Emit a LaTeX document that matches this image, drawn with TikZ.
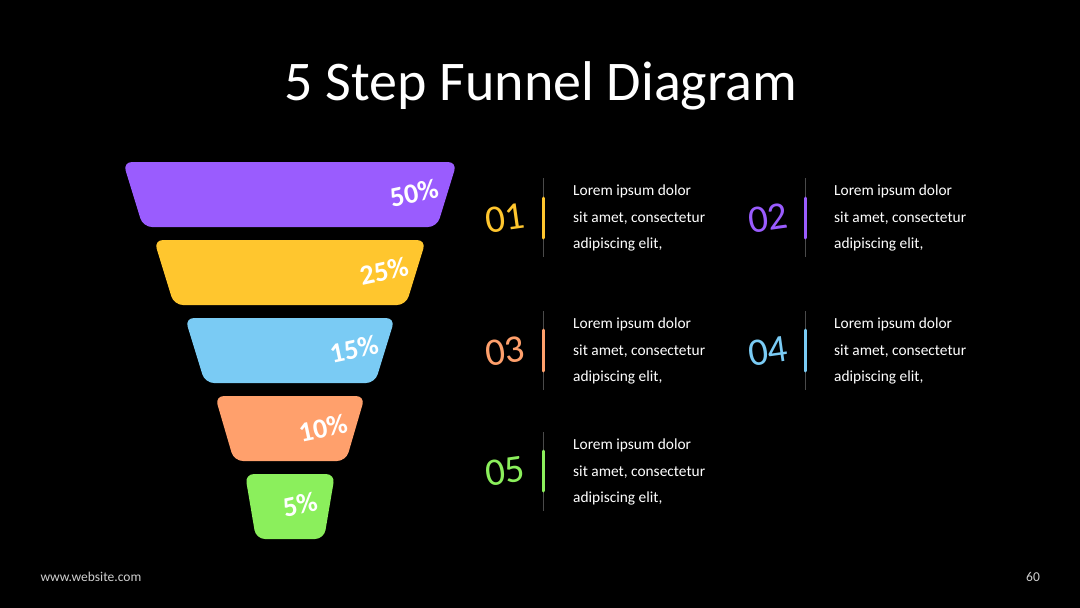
\documentclass[tikz,border=0pt]{standalone}
\usepackage{fontspec}
\setmainfont{Carlito}
\usetikzlibrary{positioning}
\definecolor{funpurple}{HTML}{9A5CFE}
\definecolor{funyellow}{HTML}{FFC62E}
\definecolor{funblue}{HTML}{7ACBF4}
\definecolor{funorange}{HTML}{FFA06C}
\definecolor{fungreen}{HTML}{8BEF5C}
\definecolor{rulegray}{HTML}{4A4A4A}
\definecolor{footgray}{HTML}{D0D0D0}
\tikzset{
  layer/.style={fill=#1, rounded corners=9pt},
  pct/.style={font=\fontsize{28}{28}\selectfont\bfseries, text=white, rotate=12},
  num/.style={font=\fontsize{39}{39}\selectfont, text=#1, rotate=8},
  body/.style={font=\fontsize{15.4}{26.5}\selectfont, text=white, align=left,
               anchor=north west, inner sep=0pt},
  rule/.style={draw=rulegray, line width=0.8pt},
  bar/.style={draw=#1, line width=3pt, line cap=round},
  foot/.style={font=\fontsize{13.5}{14}\selectfont, text=footgray},
}

\begin{document}
\begin{tikzpicture}[x=1pt, y=-1pt]
  \fill[black] (0,0) rectangle (1080,608);
  \useasboundingbox (0,0) rectangle (1080,608);
  \node[font=\fontsize{56}{56}\selectfont, text=white] (title) at (541,86) {5 Step Funnel Diagram};

  % funnel
  \fill[layer=funpurple] (123,162) -- (457,162) -- (437,227) -- (143,227) -- cycle;
  \fill[layer=funyellow] (154,240) -- (426,240) -- (406,305) -- (174,305) -- cycle;
  \fill[layer=funblue]   (185,318) -- (395,318) -- (375,383) -- (205,383) -- cycle;
  \fill[layer=funorange] (215,396) -- (365,396) -- (346,461) -- (234,461) -- cycle;
  \fill[layer=fungreen]  (245,474) -- (335,474) -- (324,539) -- (256,539) -- cycle;
  \node[pct] (p1) at (414,193) {50\%};
  \node[pct] (p2) at (384,271) {25\%};
  \node[pct] (p3) at (354,349) {15\%};
  \node[pct] (p4) at (323,428) {10\%};
  \node[pct] (p5) at (300,505) {5\%};

  % steps
  \draw[rule] (543,178) -- (543,257);
  \draw[bar=funyellow] (543,198) -- (543,238);
  \node[num=funyellow] (n1) at (505,218) {01};
  \node[body] (t1) at (573,185) {Lorem ipsum dolor\\sit amet, consectetur\\adipiscing elit,};

  \draw[rule] (805,178) -- (805,257);
  \draw[bar=funpurple] (805,198) -- (805,238);
  \node[num=funpurple] (n2) at (768,218) {02};
  \node[body] (t2) at (834,185) {Lorem ipsum dolor\\sit amet, consectetur\\adipiscing elit,};

  \draw[rule] (543,311) -- (543,390);
  \draw[bar=funorange] (543,330) -- (543,371);
  \node[num=funorange] (n3) at (505,351) {03};
  \node[body] (t3) at (573,318) {Lorem ipsum dolor\\sit amet, consectetur\\adipiscing elit,};

  \draw[rule] (805,311) -- (805,390);
  \draw[bar=funblue] (805,330) -- (805,371);
  \node[num=funblue] (n4) at (768,351) {04};
  \node[body] (t4) at (834,318) {Lorem ipsum dolor\\sit amet, consectetur\\adipiscing elit,};

  \draw[rule] (543,432) -- (543,511);
  \draw[bar=fungreen] (543,451) -- (543,491);
  \node[num=fungreen] (n5) at (505,471) {05};
  \node[body] (t5) at (573,439) {Lorem ipsum dolor\\sit amet, consectetur\\adipiscing elit,};

  % footer
  \node[foot, anchor=west] (site) at (37,577) {www.website.com};
  \node[foot] (page) at (1033,577) {60};
\end{tikzpicture}
\end{document}
